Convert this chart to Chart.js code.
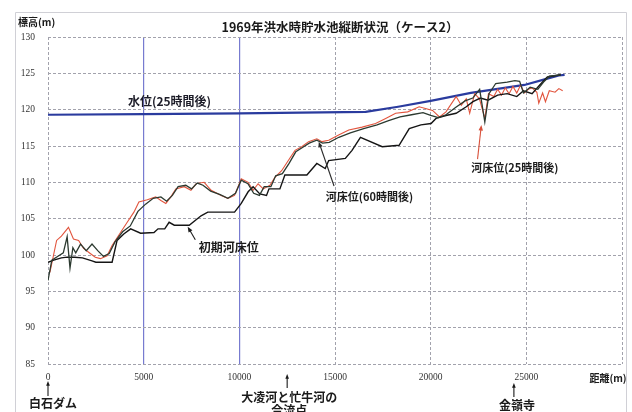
<!DOCTYPE html>
<html>
<head>
<meta charset="utf-8">
<script src="https://cdn.jsdelivr.net/npm/chart.js@4/dist/chart.umd.min.js"></script>
<style>
  html, body { margin: 0; padding: 0; background: #fff; }
  #wrap { width: 632px; height: 412px; }
</style>
</head>
<body>
<div id="wrap"><canvas id="c" width="632" height="412"></canvas></div>
<script>
// ---- text ----
const titleText = '1969年洪水時貯水池縦断状況（ケース2）';
const yAxisTitle = '標高(m)';
const xAxisTitle = '距離(m)';

// ---- axis ticks ----
const yMin = 85, yMax = 130, yStep = 5;
const xMin = 0, xMax = 30000, xStep = 5000;

// ---- 水位(25時間後): distance (m), elevation (m) ----
const waterDist = [0, 5000, 10000, 13200, 16600, 18300, 20000, 22100, 24900, 26000, 26700, 27000];
const waterElev = [119.3, 119.4, 119.5, 119.6, 119.7, 120.4, 121.2, 122.3, 123.4, 124.2, 124.7, 124.8];

// ---- 河床位(25時間後) ----
const bed25Dist = [100, 450, 700, 1070, 1330, 1600, 1860, 2210, 2470, 2740, 3090, 3350, 3790, 4140, 4490, 4750,
  5190, 5630, 5900, 6160, 6420, 6680, 7120, 7470, 7740, 8160, 8530, 9050, 9400, 9750, 10100, 10460, 10720,
  10980, 11250, 11600, 11860, 12210, 12560, 12910, 13260, 13620, 14050, 14320, 14670, 15190, 15720, 16420,
  17120, 17650, 18170, 18800, 19400, 20100, 20460, 20800, 21330, 21600, 21860, 22040, 22300, 22550, 22830,
  23020, 23300, 23500, 23700, 23900, 24100, 24300, 24500, 24700, 24900, 25100, 25300, 25550, 25650, 25850,
  26000, 26200, 26500, 26700, 26900];
const bed25Elev = [97.6, 102.0, 102.6, 103.8, 102.2, 102.0, 100.9, 100.2, 99.7, 99.5, 99.9, 101.3, 103.1, 104.5, 105.9, 107.3,
  107.6, 108.0, 107.5, 107.1, 108.0, 109.1, 109.4, 108.9, 109.8, 110.0, 108.9, 108.2, 107.8, 108.2, 110.5, 110.0, 108.9,
  109.8, 109.1, 109.6, 110.7, 111.6, 113.0, 114.4, 114.9, 115.6, 116.0, 115.6, 115.8, 116.5, 117.2, 117.6,
  118.1, 118.8, 119.5, 119.7, 120.4, 119.9, 119.0, 119.7, 121.8, 120.6, 121.5, 119.5, 122.2, 121.5, 118.8,
  122.2, 121.8, 122.8, 122.0, 123.0, 122.2, 123.2, 122.3, 123.4, 122.3, 122.8, 123.0, 122.4, 120.9, 122.3,
  121.1, 122.6, 122.4, 122.9, 122.6];

// ---- 河床位(60時間後) ----
const bed60Dist = [0, 200, 500, 800, 1000, 1150, 1300, 1450, 1700, 2000, 2300, 2600, 2900, 3200, 3500, 3900, 4300,
  4700, 5100, 5500, 5900, 6200, 6500, 6800, 7200, 7500, 7800, 8100, 8500, 9000, 9400, 9800, 10100, 10450,
  10750, 11050, 11300, 11650, 11900, 12250, 12600, 12950, 13300, 13650, 14050, 14350, 14700, 15200, 15800,
  16500, 17200, 17800, 18400, 19000, 19600, 20000, 20400, 20800, 21300, 21800, 22200, 22560, 22830, 23050,
  23400, 24000, 24400, 24650, 24850, 25200, 25600, 25900, 26200, 26800];
const bed60Elev = [96.5, 99.3, 99.8, 100.3, 102.5, 98.2, 101.0, 100.3, 101.5, 100.6, 101.5, 100.6, 99.8, 100.2, 101.8, 103.2, 104.0,
  106.0, 107.0, 107.8, 108.0, 107.4, 108.2, 109.4, 109.6, 109.1, 109.9, 109.6, 108.8, 108.3, 107.8, 108.5, 110.3, 109.8,
  108.5, 108.2, 109.4, 109.4, 110.9, 111.2, 112.6, 114.2, 114.8, 115.4, 115.8, 115.4, 115.5, 116.2, 116.8,
  117.4, 117.9, 118.5, 119.0, 119.3, 119.6, 119.2, 118.9, 119.3, 120.3, 121.2, 121.6, 122.8, 118.3, 122.2,
  123.6, 123.8, 124.0, 123.9, 122.3, 123.1, 122.8, 123.8, 124.6, 124.8];

// ---- 初期河床位 ----
const bed0Dist = [0, 300, 700, 1000, 1400, 1800, 2300, 2500, 3350, 3610, 3960, 4320, 4840, 5540, 5750, 6100, 6330,
  6600, 7380, 8000, 8350, 9750, 10100, 10460, 10720, 11070, 11420, 11550, 12120, 12380, 13530, 14050, 14490,
  14670, 15540, 15890, 16330, 17470, 18350, 18880, 19490, 20020, 20280, 20800, 21330, 21860, 22210, 22600,
  23000, 23500, 24000, 24500, 24850, 25300, 25700, 26100, 26800];
const bed0Elev = [99.0, 99.3, 99.6, 99.7, 99.7, 99.6, 99.2, 99.0, 99.0, 102.0, 102.9, 103.6, 103.0, 103.1, 103.6, 103.6, 104.5,
  104.1, 104.1, 105.4, 105.9, 105.9, 107.1, 108.7, 109.4, 108.4, 108.2, 109.1, 109.1, 111.0, 111.0, 112.6, 111.9,
  113.0, 113.3, 114.4, 116.2, 114.9, 115.1, 117.4, 117.9, 118.1, 118.8, 119.2, 119.5, 120.4, 121.1, 121.6,
  121.3, 122.0, 122.2, 121.8, 122.6, 122.2, 123.4, 124.5, 124.8];

// ---- callout labels (text, label anchor in data units, arrow tail/tip in data units) ----
const callouts = [
  { text: '水位(25時間後)', at: [6350, 121.2], size: 12, color: '#1c1c28', arrow: null },
  { text: '初期河床位', at: [9450, 101.0], size: 12, color: '#1c1c1c', arrow: { from: [7700, 102.1], to: [7300, 103.9] }, arrowColor: '#1c1c1c' },
  { text: '河床位(60時間後)', at: [16800, 108.0], size: 11, color: '#1c1c1c', arrow: { from: [14950, 109.5], to: [14150, 115.6] }, arrowColor: '#2a2a2a' },
  { text: '河床位(25時間後)', at: [24400, 112.0], size: 11, color: '#1c1c1c', arrow: { from: [22450, 113.2], to: [22650, 117.9] }, arrowColor: '#d8503a' }
];

// ---- landmarks along the distance axis (arrow and text offsets below the plot, px) ----
const landmarks = [
  { dist: 0, lines: ['白石ダム'], dx: 5, tip: 17, tail: 32, text: 39 },
  { dist: 12500, lines: ['大凌河と忙牛河の', '合流点'], dx: 2, tip: 10, tail: 24, text: 33 },
  { dist: 24350, lines: ['金嶺寺'], dx: 3, tip: 19, tail: 33, text: 41 }
];

const toPoints = (xs, ys) => xs.map((d, i) => ({ x: d, y: ys[i] }));
const isBlueLine = v => v === 5000 || v === 10000;
const cjk = '"Noto Sans CJK JP", "Noto Sans CJK SC", sans-serif';
const dotted = [3, 2];
const gridGrey = '#a2a2ac';

function arrow(ctx, x1, y1, x2, y2, color, head) {
  const a = Math.atan2(y2 - y1, x2 - x1);
  ctx.save();
  ctx.strokeStyle = color;
  ctx.fillStyle = color;
  ctx.lineWidth = 1.1;
  ctx.beginPath();
  ctx.moveTo(x1, y1);
  ctx.lineTo(x2 - Math.cos(a) * head * 0.6, y2 - Math.sin(a) * head * 0.6);
  ctx.stroke();
  ctx.beginPath();
  ctx.moveTo(x2, y2);
  ctx.lineTo(x2 - head * Math.cos(a - 0.38), y2 - head * Math.sin(a - 0.38));
  ctx.lineTo(x2 - head * Math.cos(a + 0.38), y2 - head * Math.sin(a + 0.38));
  ctx.closePath();
  ctx.fill();
  ctx.restore();
}

const decorations = {
  id: 'decorations',
  beforeDraw(chart) {
    const ctx = chart.ctx;
    ctx.save();
    ctx.fillStyle = '#ffffff';
    ctx.fillRect(0, 0, chart.width, chart.height);
    // outer frame
    ctx.strokeStyle = '#d0d0d6';
    ctx.lineWidth = 1;
    ctx.beginPath();
    ctx.moveTo(15.5, 420);
    ctx.lineTo(15.5, 12.5);
    ctx.lineTo(626.5, 12.5);
    ctx.lineTo(626.5, 420);
    ctx.stroke();
    ctx.restore();
  },
  afterDraw(chart) {
    const { ctx, scales: { x, y } } = chart;
    const px = v => x.getPixelForValue(v);
    const py = v => y.getPixelForValue(v);
    ctx.save();
    ctx.textBaseline = 'middle';

    // title and axis names
    ctx.fillStyle = '#1a1a1a';
    ctx.textAlign = 'center';
    ctx.font = 'bold 12.5px ' + cjk;
    ctx.fillText(titleText, 340, 27);
    ctx.textAlign = 'left';
    ctx.font = 'bold 10px ' + cjk;
    ctx.fillText(yAxisTitle, 18, 22);
    ctx.textAlign = 'center';
    ctx.fillText(xAxisTitle, 608, y.bottom + 14);

    // callouts
    callouts.forEach(c => {
      if (c.arrow) {
        arrow(ctx, px(c.arrow.from[0]), py(c.arrow.from[1]), px(c.arrow.to[0]), py(c.arrow.to[1]), c.arrowColor, 6);
      }
      ctx.fillStyle = c.color;
      ctx.font = 'bold ' + c.size + 'px ' + cjk;
      ctx.textAlign = 'center';
      ctx.fillText(c.text, px(c.at[0]), py(c.at[1]));
    });

    // landmarks below the axis
    landmarks.forEach(m => {
      const xp = px(m.dist);
      arrow(ctx, xp, y.bottom + m.tail, xp, y.bottom + m.tip, '#1a1a1a', 5);
      ctx.fillStyle = '#1a1a1a';
      ctx.font = 'bold 12px ' + cjk;
      ctx.textAlign = 'center';
      m.lines.forEach((t, i) => ctx.fillText(t, xp + m.dx, y.bottom + m.text + i * 13));
    });
    ctx.restore();
  }
};

new Chart(document.getElementById('c'), {
  type: 'line',
  data: {
    datasets: [
      { label: '河床位(60時間後)', data: toPoints(bed60Dist, bed60Elev), borderColor: '#2c3a30', borderWidth: 1.3, order: 0 },
      { label: '初期河床位', data: toPoints(bed0Dist, bed0Elev), borderColor: '#151515', borderWidth: 1.4, order: 1 },
      { label: '河床位(25時間後)', data: toPoints(bed25Dist, bed25Elev), borderColor: '#e2553e', borderWidth: 1.1, order: 2 },
      { label: '水位(25時間後)', data: toPoints(waterDist, waterElev), borderColor: '#2a3b9e', borderWidth: 2.2, order: 3 }
    ]
  },
  options: {
    responsive: false,
    animation: false,
    layout: { padding: { top: 37, right: 10, bottom: 0, left: 0 } },
    plugins: { legend: { display: false }, tooltip: { enabled: false }, title: { display: false } },
    elements: { point: { radius: 0 }, line: { tension: 0, fill: false } },
    scales: {
      x: {
        type: 'linear', min: xMin, max: xMax,
        ticks: {
          stepSize: xStep, autoSkip: false, maxRotation: 0, padding: 8, color: '#333',
          font: { family: '"Liberation Serif"', size: 9.5 },
          callback: v => (v === xMax ? '' : String(v))
        },
        grid: {
          drawTicks: false,
          color: c => (c.tick && isBlueLine(c.tick.value) ? 'rgba(95,100,200,0.85)' : gridGrey),
          lineWidth: c => (c.tick && isBlueLine(c.tick.value) ? 1.2 : 1)
        },
        border: { display: false, dash: c => (c.tick && isBlueLine(c.tick.value) ? [] : dotted) },
        afterFit: s => { s.height = 48; }
      },
      y: {
        min: yMin, max: yMax,
        ticks: { stepSize: yStep, padding: 13, color: '#333', font: { family: '"Liberation Serif"', size: 9.5 } },
        grid: { drawTicks: false, color: gridGrey, lineWidth: 1 },
        border: { display: false, dash: dotted },
        afterFit: s => { s.width = 48; }
      }
    }
  },
  plugins: [decorations]
});
</script>
</body>
</html>
